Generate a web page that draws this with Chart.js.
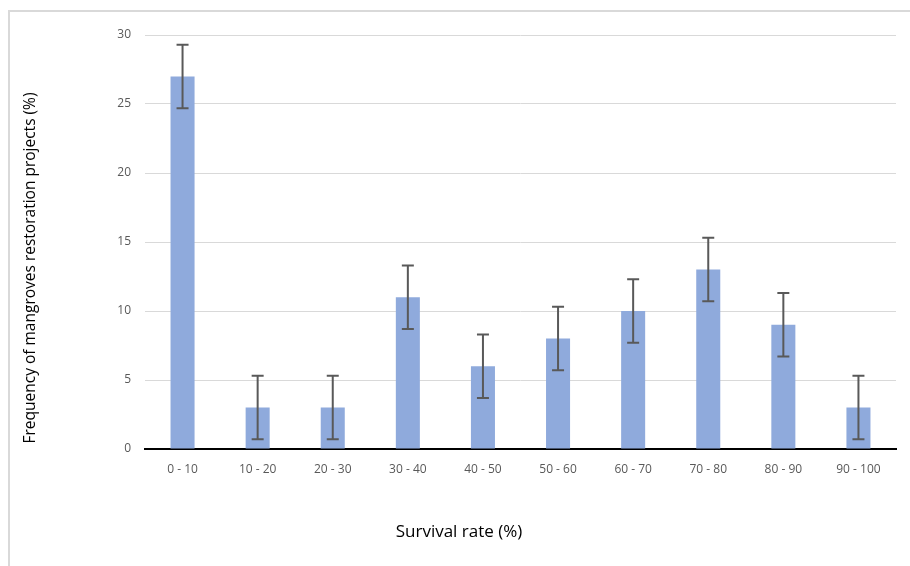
<!DOCTYPE html>
<html>
<head>
<meta charset="utf-8">
<script src="https://cdn.jsdelivr.net/npm/chart.js@4"></script>
<style>
  html, body { margin: 0; padding: 0; background: #fff; }
  #wrap { position: relative; width: 910px; height: 566px; overflow: hidden; }
  #frame { position: absolute; left: 8px; top: 10px; right: -5px; bottom: -5px;
           border-top: 2px solid #d9d9d9; border-left: 2px solid #d9d9d9; }
  canvas { position: absolute; left: 0; top: 0; }
</style>
</head>
<body>
<div id="wrap">
  <div id="frame"></div>
  <canvas id="chart" width="910" height="566"></canvas>
</div>
<script>
// Survival classes and frequency of projects
const categories = ['0 - 10', '10 - 20', '20 - 30', '30 - 40', '40 - 50',
                    '50 - 60', '60 - 70', '70 - 80', '80 - 90', '90 - 100'];
const frequency = [27, 3, 3, 11, 6, 8, 10, 13, 9, 3];
const errorSize = [2.3, 2.3, 2.3, 2.3, 2.3, 2.3, 2.3, 2.3, 2.3, 2.3];
const yTicks = [0, 5, 10, 15, 20, 25, 30];

const xTitle = 'Survival rate (%)';
const yTitle = 'Frequency of mangroves restoration projects (%)';
const fontFamily = "'Open Sans', 'Noto Sans', sans-serif";

// draw the error bars from the scales
const errorBars = {
    id: 'errorBars',
    afterDatasetsDraw(chart) {
        const ctx = chart.ctx;
        const meta = chart.getDatasetMeta(0);
        const yScale = chart.scales.y;
        ctx.save();
        ctx.strokeStyle = '#595959';
        ctx.lineWidth = 2;
        meta.data.forEach((bar, i) => {
            const top = yScale.getPixelForValue(frequency[i] + errorSize[i]);
            const bot = yScale.getPixelForValue(frequency[i] - errorSize[i]);
            const x = bar.x;
            ctx.beginPath();
            ctx.moveTo(x, top); ctx.lineTo(x, bot);
            ctx.moveTo(x - 6, top); ctx.lineTo(x + 6, top);
            ctx.moveTo(x - 6, bot); ctx.lineTo(x + 6, bot);
            ctx.stroke();
        });
        ctx.restore();
    }
};

// axis titles, placed like the original
const axisTitles = {
    id: 'axisTitles',
    afterDraw(chart) {
        const ctx = chart.ctx;
        ctx.save();
        ctx.fillStyle = '#000';
        ctx.textAlign = 'center';
        ctx.textBaseline = 'middle';
        ctx.font = '17px ' + fontFamily;
        ctx.fillText(xTitle, 459, 532);
        ctx.font = '15.5px ' + fontFamily;
        ctx.translate(31, 268);
        ctx.rotate(-Math.PI / 2);
        ctx.fillText(yTitle, 0, 0);
        ctx.restore();
    }
};

new Chart(document.getElementById('chart'), {
    type: 'bar',
    data: {
        labels: categories,
        datasets: [{
            data: frequency,
            backgroundColor: '#8faadc',
            borderWidth: 0,
            categoryPercentage: 1,
            barPercentage: 0.32
        }]
    },
    options: {
        responsive: false,
        animation: false,
        layout: { padding: { left: 0, top: 35, right: 14, bottom: 0 } },
        plugins: { legend: { display: false }, tooltip: { enabled: false } },
        scales: {
            x: {
                grid: { display: false },
                border: { color: '#000', width: 2 },
                ticks: { color: '#595959', font: { size: 12, family: fontFamily }, padding: 5 },
                afterFit: s => { s.height = 117; }
            },
            y: {
                min: 0, max: 30,
                afterBuildTicks: s => { s.ticks = yTicks.map(v => ({ value: v })); },
                grid: { color: '#d9d9d9', drawTicks: false },
                border: { display: false },
                ticks: { color: '#595959', font: { size: 12, family: fontFamily }, padding: 14 },
                afterFit: s => { s.width = 145; }
            }
        }
    },
    plugins: [errorBars, axisTitles]
});
</script>
</body>
</html>
